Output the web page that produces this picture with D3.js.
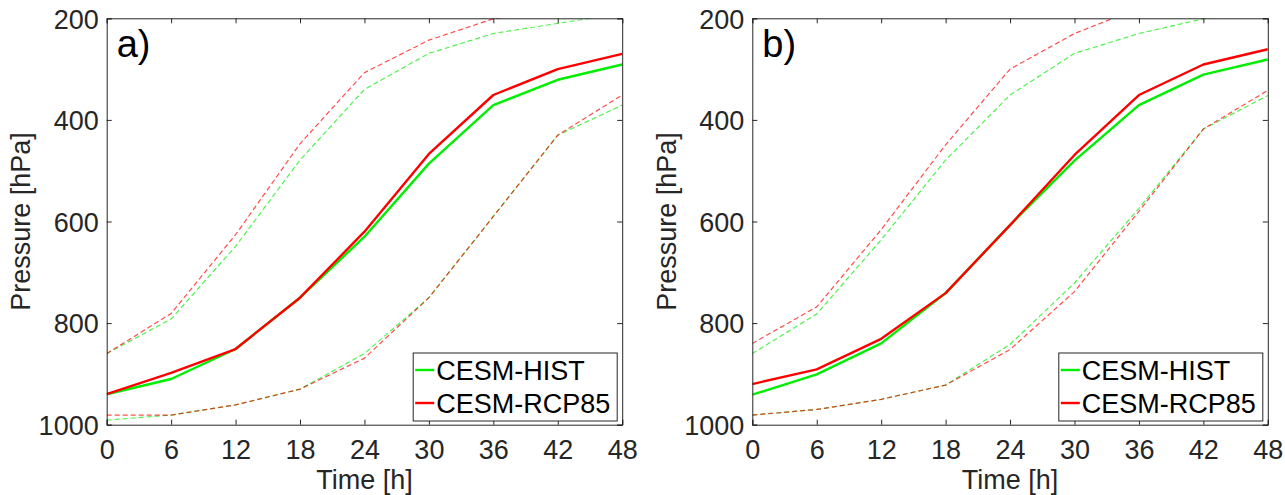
<!DOCTYPE html>
<html>
<head>
<meta charset="utf-8">
<script src="https://cdnjs.cloudflare.com/ajax/libs/d3/7.8.5/d3.min.js"></script>
<style>
  html, body { margin: 0; padding: 0; background: #fff; }
  svg text { font-family: "Liberation Sans", Arial, sans-serif; fill: #262626; }
</style>
</head>
<body>
<div id="chart"></div>
<script>
'use strict';

// time axis (hours) and pressure ticks (hPa)
var times = [0, 6, 12, 18, 24, 30, 36, 42, 48];
var yTicks = [200, 400, 600, 800, 1000];
var seriesNames = ['CESM-HIST', 'CESM-RCP85'];

// panel a)
var aHistMean  = [940, 910, 851, 750, 630, 486, 371, 321, 291];
var aRcpMean   = [940, 898, 851, 750, 620, 467, 351, 300, 270];
var aHistUpper = [860, 792, 649, 479, 340, 269, 230, 210, 190];
var aRcpUpper  = [860, 781, 626, 447, 307, 243, 201, 185, 170];
var aHistLower = [991, 981, 961, 930, 860, 750, 590, 430, 371];
var aRcpLower  = [981, 981, 961, 930, 869, 750, 590, 430, 351];

// panel b)
var bHistMean  = [941, 901, 840, 741, 607, 480, 371, 311, 281];
var bRcpMean   = [920, 891, 831, 741, 607, 469, 351, 291, 261];
var bHistUpper = [860, 782, 636, 479, 351, 269, 230, 201, 185];
var bRcpUpper  = [840, 768, 616, 449, 300, 230, 180, 165, 150];
var bHistLower = [981, 970, 950, 922, 842, 721, 574, 418, 352];
var bRcpLower  = [981, 970, 950, 922, 852, 738, 580, 418, 342];

var W = 1285, H = 495;
var green = '#00ee00', red = '#ff0000', axisColor = '#262626';

var panels = [
  { label: 'a)', left: 106.7, hist: [aHistMean, aHistUpper, aHistLower], rcp: [aRcpMean, aRcpUpper, aRcpLower] },
  { label: 'b)', left: 752.3, hist: [bHistMean, bHistUpper, bHistLower], rcp: [bRcpMean, bRcpUpper, bRcpLower] }
];
var pw = 515.5, plotTop = 18.3, plotBottom = 424.7;

var svg = d3.select('#chart').append('svg')
  .attr('width', W)
  .attr('height', H);

panels.forEach(function(p, pi) {
  var x = d3.scaleLinear().domain([0, 48]).range([p.left, p.left + pw]);
  var y = d3.scaleLinear().domain([200, 1000]).range([plotTop, plotBottom]);
  var g = svg.append('g');

  var clipId = 'clip' + pi;
  svg.append('clipPath').attr('id', clipId)
    .append('rect')
    .attr('x', p.left).attr('y', plotTop)
    .attr('width', pw).attr('height', plotBottom - plotTop);

  var line = d3.line()
    .x(function(d, i) { return x(times[i]); })
    .y(function(d) { return y(d); });

  var lines = g.append('g').attr('clip-path', 'url(#' + clipId + ')');

  // dashed envelopes first, then means
  [[p.hist, green], [p.rcp, red]].forEach(function(s) {
    [s[0][1], s[0][2]].forEach(function(vals) {
      lines.append('path')
        .attr('d', line(vals))
        .attr('fill', 'none')
        .attr('stroke', s[1])
        .attr('stroke-width', 1.2)
        .attr('stroke-opacity', 0.7)
        .attr('stroke-dasharray', '5,3');
    });
  });
  [[p.hist, green], [p.rcp, red]].forEach(function(s) {
    lines.append('path')
      .attr('d', line(s[0][0]))
      .attr('fill', 'none')
      .attr('stroke', s[1])
      .attr('stroke-width', 2.4)
      .attr('stroke-linejoin', 'round');
  });

  // axes: ticks point inward, box all round
  var tickLen = 5;
  var xb = g.append('g').attr('transform', 'translate(0,' + plotBottom + ')')
    .call(d3.axisBottom(x).tickValues(times).tickSize(-tickLen).tickPadding(15));
  var xt = g.append('g').attr('transform', 'translate(0,' + plotTop + ')')
    .call(d3.axisTop(x).tickValues(times).tickSize(-tickLen).tickFormat(''));
  var yl = g.append('g').attr('transform', 'translate(' + p.left + ',0)')
    .call(d3.axisLeft(y).tickValues(yTicks).tickFormat(d3.format('d')).tickSize(-tickLen).tickPadding(8));
  var yr = g.append('g').attr('transform', 'translate(' + (p.left + pw) + ',0)')
    .call(d3.axisRight(y).tickValues(yTicks).tickSize(-tickLen).tickFormat(''));

  [xb, xt, yl, yr].forEach(function(a) {
    a.select('.domain').attr('stroke', axisColor).attr('stroke-width', 1);
    a.selectAll('.tick line').attr('stroke', axisColor).attr('stroke-width', 1);
    a.selectAll('.tick text')
      .attr('font-size', 27)
      .attr('fill', axisColor);
  });
  xb.selectAll('.tick text').attr('dy', '0.71em');
  yl.selectAll('.tick text').attr('dy', '0.36em');

  // axis titles
  g.append('text')
    .attr('x', p.left + pw / 2).attr('y', 489)
    .attr('text-anchor', 'middle')
    .attr('font-size', 27)
    .text('Time [h]');
  g.append('text')
    .attr('transform', 'translate(' + (p.left - 76.5) + ',' + ((plotTop + plotBottom) / 2) + ') rotate(-90)')
    .attr('text-anchor', 'middle')
    .attr('font-size', 27)
    .text('Pressure [hPa]');

  // panel label
  g.append('text')
    .attr('x', p.left + 10).attr('y', 57)
    .attr('font-size', 38)
    .style('fill', '#000')
    .text(p.label);

  // legend
  var lx = p.left + pw - 209, ly = 353, lw = 204, lh = 68;
  var leg = g.append('g');
  leg.append('rect')
    .attr('x', lx).attr('y', ly)
    .attr('width', lw).attr('height', lh)
    .attr('fill', '#fff')
    .attr('stroke', axisColor)
    .attr('stroke-width', 1);
  [green, red].forEach(function(c, i) {
    var cy = ly + 17 + i * 33;
    leg.append('line')
      .attr('x1', lx + 2).attr('x2', lx + 21)
      .attr('y1', cy).attr('y2', cy)
      .attr('stroke', c).attr('stroke-width', 2.4);
    leg.append('text')
      .attr('x', lx + 23).attr('y', cy)
      .attr('dy', '0.36em')
      .attr('font-size', 27)
      .style('fill', '#000')
      .text(seriesNames[i]);
  });
});
</script>
</body>
</html>
